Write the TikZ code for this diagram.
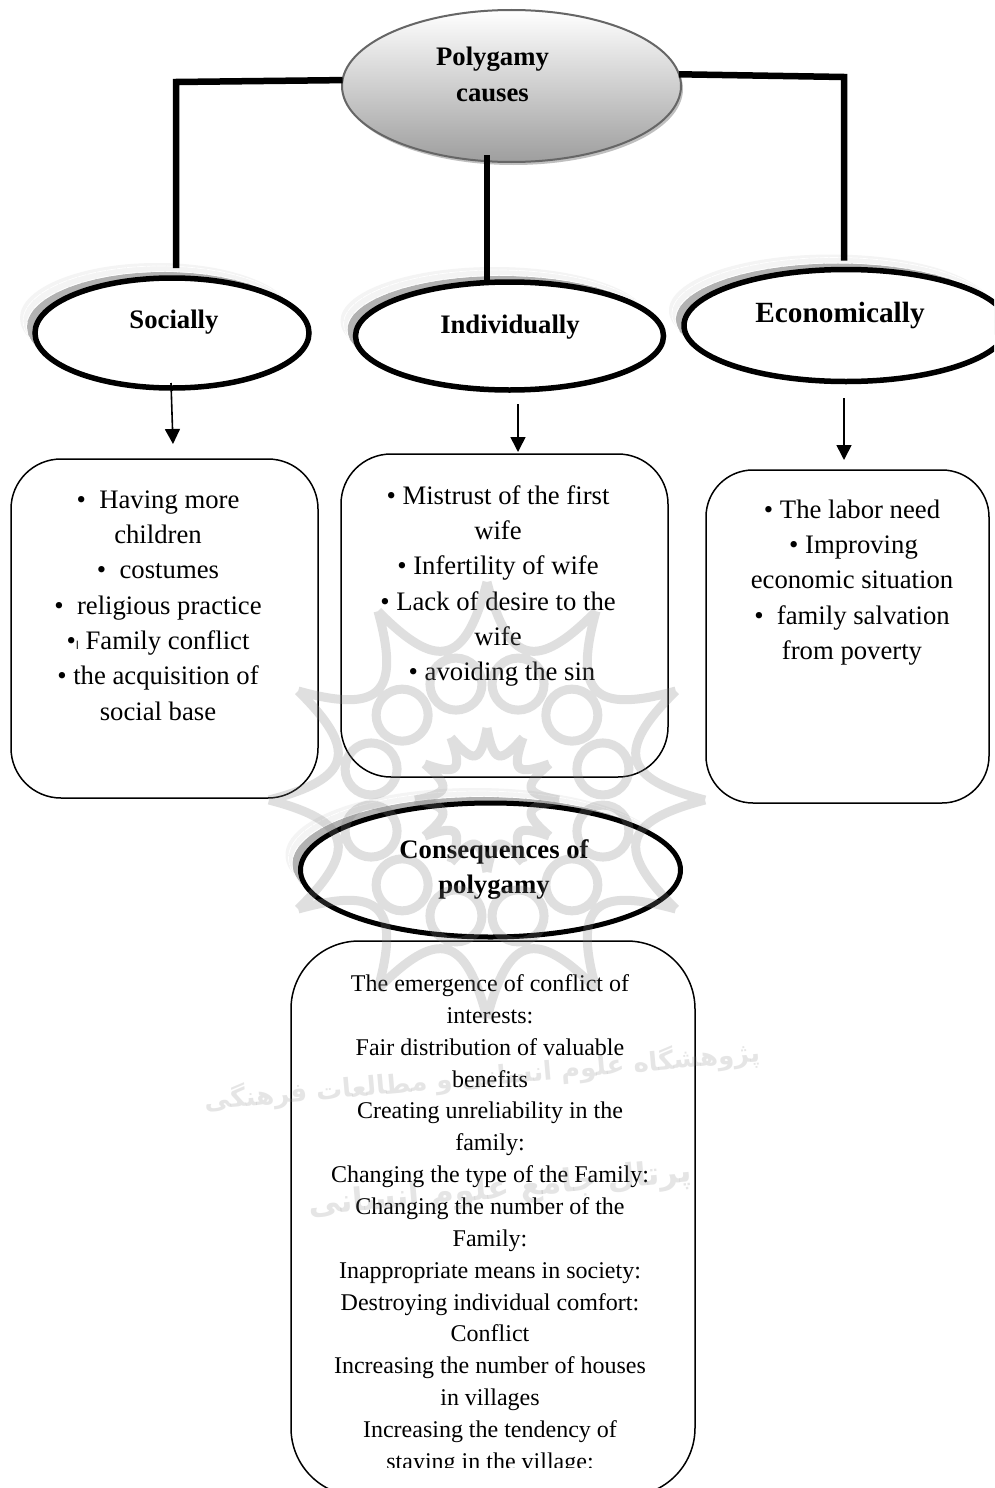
\documentclass[tikz,border=0pt]{standalone}
\usepackage{fontspec}
\setmainfont{Liberation Serif}
\newfontfamily\arabicfont[Script=Arabic]{DejaVu Sans}
\TeXXeTstate=1
\usetikzlibrary{shapes.geometric,arrows.meta}
\newcommand{\myhalo}[4]{%
  \fill[gray!9] (#1-15,#2-15) ellipse [x radius=#3, y radius=#4];
  \draw[white,line width=.7pt,dash pattern=on 9pt off 1pt] (#1-12,#2-12) ellipse [x radius=#3, y radius=#4];
  \fill[black!30] (#1-8,#2-6) ellipse [x radius=#3, y radius=#4];
  \draw[white,line width=.7pt,dash pattern=on 12pt off 2pt] (#1-8.5,#2-6.5) ellipse [x radius=#3, y radius=#4];
}
\tikzset{
  x=1pt,y=-1pt,
  ell/.style={ellipse,draw=black,fill=white,line width=5.5pt,inner sep=0pt,outer sep=0pt},
  cbox/.style={rectangle,draw=black,line width=1.5pt,rounded corners=50pt,inner sep=0pt,outer sep=0pt},
  conn/.style={line width=6.5pt,line cap=butt,line join=miter},
  arr/.style={line width=1.6pt,-{Triangle[length=15pt,width=15pt]}},
  head/.style={font=\fontsize{26.7}{35.3}\selectfont\bfseries,align=center,inner sep=0pt},
  body/.style={font=\fontsize{26.7}{35.3}\selectfont,align=center,inner sep=0pt},
  small/.style={font=\fontsize{24}{31.85}\selectfont,align=center,inner sep=0pt},
  wm/.style={draw=black!50,opacity=.25,line width=9pt},
  wmtext/.style={text=black!50,opacity=.2,inner sep=0pt}
}
\begin{document}
\begin{tikzpicture}
\clip (0,0) rectangle (994,1488);
\fill[white] (0,0) rectangle (994,1488);

% ellipse halos
\myhalo{172}{333}{137}{55}
\myhalo{509.5}{336}{154}{54}
\myhalo{846}{325.5}{162}{56}
\myhalo{490.5}{870}{190}{67}

% top ellipse
\fill[black!25] (513.5,89) ellipse [x radius=169.5, y radius=76];
\node[ellipse,draw=black!60,line width=2pt,top color=white,bottom color=black!38,minimum width=339pt,minimum height=152pt,inner sep=0pt,outer sep=0pt] (top) at (511.5,86) {};
\node[head] (topT) at (492.5,74.5) {Polygamy\\causes};

% category ellipses
\node[ell,minimum width=274pt,minimum height=110pt] (soc) at (172,333) {};
\node[ell,minimum width=308pt,minimum height=108pt] (ind) at (509.5,336) {};
\node[ell,minimum width=324pt,minimum height=112pt] (eco) at (846,325.5) {};
\node[ell,line width=5pt,minimum width=380pt,minimum height=134pt] (con) at (490.5,870) {};
\node[head] (socT) at (174,322) {Socially};
\node[head] (indT) at (510,327) {Individually};
\node[head,font=\fontsize{29.3}{35}\selectfont\bfseries] (ecoT) at (840,315.5) {Economically};
\node[head] (conT) at (494,869.5) {Consequences of\\polygamy};

% thick connectors
\coordinate (bendL) at (176,82);
\coordinate (bendR) at (844,77);
\draw[conn] (top.178) -- (bendL) -- ([xshift=4pt,yshift=10pt]soc.north);
\draw[conn] (top.4) -- (bendR) -- ([xshift=-2pt,yshift=9pt]eco.north);
\draw[conn] ([xshift=-24.5pt,yshift=7pt]top.south) -- ([xshift=-22.5pt,yshift=1pt]ind.north);

% boxes
\node[cbox,minimum width=307pt,minimum height=339pt] (socB) at (164.5,628.5) {};
\node[cbox,minimum width=327pt,minimum height=323pt] (indB) at (504.5,615.5) {};
\node[cbox,rounded corners=47pt,minimum width=283pt,minimum height=333pt] (ecoB) at (847.5,636.5) {};
\node[cbox,rounded corners=68pt,minimum width=404pt,minimum height=555pt] (conB) at (493,1218.5) {};

% thin arrows
\draw[arr] ([xshift=-1pt,yshift=5pt]soc.south) -- ([xshift=8.5pt,yshift=15pt]socB.north);
\draw[arr] ([xshift=8.5pt,yshift=-14pt]ind.south) -- ([xshift=13.5pt,yshift=2pt]indB.north);
\draw[arr] ([xshift=-2pt,yshift=-16.5pt]eco.south) -- ([xshift=-3.5pt,yshift=10pt]ecoB.north);

% box texts
\node[body] (socX) at (158,605.5) {•\ \ Having more\\children\\•\ \ costumes\\•\ \ religious practice\\•{\arabicfont\fontsize{11}{11}\selectfont\beginR ا\endR}\ Family conflict\\• the acquisition of\\social base};
\node[body] (indX) at (498,586) {• Mistrust of the first\\wife\\• Infertility of wife\\• Lack of desire to the\\wife\\\hspace*{8pt}• avoiding the sin};
\node[body] (ecoX) at (852,582.5) {• The labor need\\\hspace*{3pt}• Improving\\economic situation\\•\ \ family salvation\\from poverty};
\begin{scope}
  \clip (280,960) rectangle (700,1467);
  \node[small] (conX) at (490,1224.5) {The emergence of conflict of\\interests:\\Fair distribution of valuable\\benefits\\Creating unreliability in the\\family:\\Changing the type of the Family:\\Changing the number of the\\Family:\\Inappropriate means in society:\\Destroying individual comfort:\\Conflict\\Increasing the number of houses\\in villages\\Increasing the tendency of\\staying in the village:};
\end{scope}

% watermark
\begin{scope}[shift={(487,800)}]
  \draw[wm]
    foreach \a in {0,30,...,330}{ (\a:218) .. controls ({\a+9}:137) and ({\a+21}:137) .. ({\a+30}:218) }
    foreach \a in {15,45,...,345}{ ({\a}:120) circle [radius=26] }
    foreach \a in {0,30,...,330}{ (\a:72) .. controls ({\a+10}:38) and ({\a+20}:38) .. ({\a+30}:72) };
\end{scope}
\node[wmtext,rotate=5,font=\arabicfont\bfseries\fontsize{26}{32}\selectfont] (wmA) at (482,1077) {\beginR پژوهشگاه علوم انسانی و مطالعات فرهنگی\endR};
\node[wmtext,rotate=5,font=\arabicfont\bfseries\fontsize{32}{38}\selectfont] (wmB) at (500,1190) {\beginR پرتال جامع علوم انسانی\endR};
\end{tikzpicture}
\end{document}
